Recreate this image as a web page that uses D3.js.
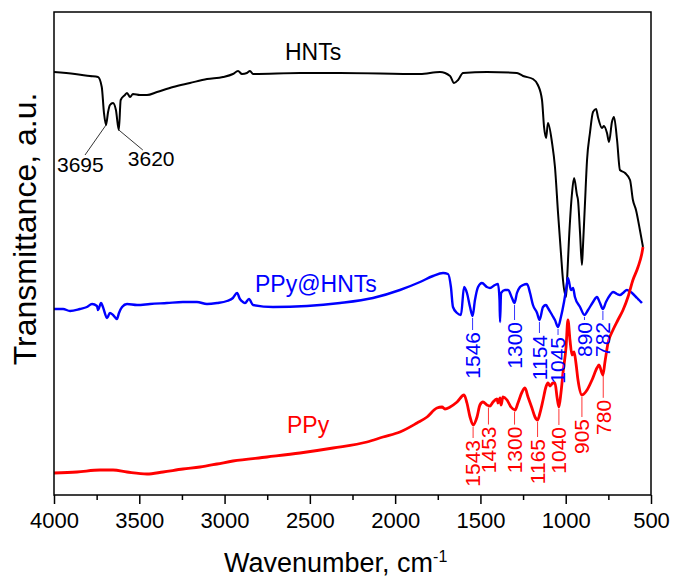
<!DOCTYPE html>
<head>
<title>FTIR spectra</title>
<style>
  body { margin: 0; background: #fff; }
  svg { font-family: "Liberation Sans", Arial, sans-serif; }
</style>
</head>
<body>
<svg width="673" height="579" id="chart"></svg>
<script src="https://cdn.jsdelivr.net/npm/d3@7"></script>
<script>

// wavenumber (cm-1) and transmittance (a.u., offset per curve)
var hntsWave = [4000,3877,3789,3742,3720,3707,3695,3683,3672,3654,3637,3620,3609,3584,3572,3554,3537,3496,3455,3396,3302,3203,3103,3009,2951,2921,2898,2869,2851,2833,2558,2323,1854,1737,1678,1655,1631,1602,1462,1286,1250,1192,1163,1139,1127,1115,1104,1080,1063,1045,1028,1016,998,992,981,963,951,934,928,916,905,899,887,875,858,840,822,811,787,776,758,746,729,717,699,682,652,623,606,588,565,547];
var hntsT    = [423,421,419,418,408,382,370,383,390,392,385,365,395,400,402,398,401,400,400,403,408,412,416,418,421,424,421,422,424,421,422,422,421,423,419,412,415,422,423,422,419,416,410,395,368,357,372,352,328,282,242,215,198,215,255,302,317,300,295,262,230,248,292,335,362,383,386,378,367,369,362,353,373,378,355,325,322,315,295,285,265,248];

var ppyHntsWave = [4000,3947,3906,3848,3807,3777,3748,3742,3724,3713,3689,3672,3654,3631,3619,3601,3572,3513,3437,3338,3244,3162,3103,3044,2986,2951,2927,2910,2892,2880,2857,2833,2716,2517,2323,2130,1972,1854,1778,1719,1690,1673,1661,1637,1614,1596,1579,1561,1546,1532,1514,1491,1462,1444,1415,1397,1388,1385,1379,1356,1338,1315,1300,1286,1268,1250,1227,1209,1192,1168,1154,1133,1116,1104,1080,1063,1045,1028,1010,992,987,969,957,946,916,890,869,840,817,799,782,764,740,723,699,682,664,641,611,582,570,553];
var ppyHntsT    = [186,186,184,186,188,191,189,185,192,188,177,182,180,176,182,188,191,190,191,192,193,193,191,192,194,197,202,196,193,192,196,190,188,189,192,197,205,213,219,222,221,208,188,182,180,208,202,188,179,195,208,212,208,207,210,211,195,173,202,205,205,197,192,202,208,210,211,202,190,182,175,188,190,187,180,175,168,178,193,212,217,205,207,198,188,180,185,193,198,192,186,193,200,203,201,200,202,205,202,197,195,192];

var ppyWave = [4000,3865,3730,3654,3572,3455,3361,3244,3144,3044,2951,2751,2558,2364,2165,2071,1972,1872,1813,1755,1725,1708,1678,1637,1596,1579,1561,1543,1520,1503,1485,1462,1444,1426,1403,1397,1385,1379,1368,1344,1321,1297,1280,1256,1239,1221,1198,1180,1165,1151,1133,1116,1104,1092,1075,1063,1051,1040,1028,1016,998,987,975,963,951,940,928,905,875,846,817,805,782,770,752,723,694,664,635,606,576,553,547];
var ppyT    = [22,23,25,25,23,21,23,26,28,31,34,38,42,47,53,58,63,72,78,87,88,86,88,93,100,92,78,70,78,90,93,90,89,93,96,92,97,90,98,95,88,85,92,103,107,98,87,78,75,82,95,108,112,109,112,112,98,88,102,122,148,175,155,140,143,132,115,100,105,115,127,130,120,133,152,165,175,185,198,215,228,242,248];

var hntsPeaks     = [3695, 3620];
var ppyHntsPeaks  = [1546, 1300, 1154, 1045, 890, 782];
var ppyPeaks      = [1543, 1453, 1300, 1165, 1040, 905, 780];

var xTicks = [4000, 3500, 3000, 2500, 2000, 1500, 1000, 500];
var xMinorTicks = [3750, 3250, 2750, 2250, 1750, 1250, 750];


var svg = d3.select("#chart"),
    margin = {top: 12, right: 22, bottom: 84, left: 54},
    width = +svg.attr("width") - margin.left - margin.right,
    height = +svg.attr("height") - margin.top - margin.bottom;

var g = svg.append("g")
    .attr("transform", "translate(" + margin.left + "," + margin.top + ")");

var x = d3.scaleLinear().domain([4000, 500]).range([0, width]);
var y = d3.scaleLinear().domain([0, 483]).range([height, 0]);

var series = [
  {name: "HNTs",     wave: hntsWave,    t: hntsT,    color: "#000000", w: 2,   peaks: hntsPeaks},
  {name: "PPy@HNTs", wave: ppyHntsWave, t: ppyHntsT, color: "#0000ff", w: 2.4, peaks: ppyHntsPeaks},
  {name: "PPy",      wave: ppyWave,     t: ppyT,     color: "#ff0000", w: 2.8, peaks: ppyPeaks}
];

var line = d3.line()
    .x(function(d) { return x(d[0]); })
    .y(function(d) { return y(d[1]); })
    .curve(d3.curveMonotoneX);

// value of a curve at some wavenumber, straight interpolation between read points
function valueAt(s, w) {
  for (var i = 0; i < s.wave.length - 1; i++) {
    var a = s.wave[i], b = s.wave[i + 1];
    if (w <= a && w >= b) {
      return s.t[i] + (s.t[i + 1] - s.t[i]) * (a - w) / (a - b);
    }
  }
  return s.t[s.t.length - 1];
}

series.forEach(function(s) {
  var pts = s.wave.map(function(w, i) { return [w, s.t[i]]; });
  g.append("path")
      .datum(pts)
      .attr("fill", "none")
      .attr("stroke", s.color)
      .attr("stroke-width", s.w)
      .attr("stroke-linejoin", "round")
      .attr("d", line);
});

// curve names
var names = [
  {s: 0, x: 285, y: 60},
  {s: 1, x: 255, y: 292},
  {s: 2, x: 287, y: 433}
];
names.forEach(function(n) {
  svg.append("text")
      .attr("x", n.x)
      .attr("y", n.y)
      .attr("fill", series[n.s].color)
      .style("font-size", "23px")
      .text(series[n.s].name);
});

// HNTs: slanted leaders
var hntsLab = [
  {dx: -21, dy: 30, tx: -49, ty: 47},
  {dx: 24, dy: 20, tx: 9, ty: 36}
];
series[0].peaks.forEach(function(p, i) {
  var px = x(p), py = y(valueAt(series[0], p)), o = hntsLab[i];
  g.append("line")
      .attr("x1", px).attr("y1", py)
      .attr("x2", px + o.dx).attr("y2", py + o.dy)
      .attr("stroke", "#000").attr("stroke-width", 0.8);
  g.append("text")
      .attr("x", px + o.tx)
      .attr("y", py + o.ty)
      .style("font-size", "21px")
      .text(p);
});

// vertical leaders with rotated numbers
function peakLabels(s, gap) {
  s.peaks.forEach(function(p, i) {
    var px = x(p), py = y(valueAt(s, p));
    g.append("line")
        .attr("x1", px).attr("y1", py + 2)
        .attr("x2", px).attr("y2", py + gap[i])
        .attr("stroke", s.color).attr("stroke-width", 0.8);
    g.append("text")
        .attr("transform", "translate(" + px + "," + (py + gap[i] + 2) + ") rotate(-90)")
        .attr("text-anchor", "end")
        .attr("dy", "0.35em")
        .attr("fill", s.color)
        .style("font-size", "21px")
        .text(p);
  });
}
peakLabels(series[1], [14, 17, 13, 8, 5, 11]);
peakLabels(series[2], [13, 19, 15, 17, 18, 22, 25]);

// frame
g.append("rect")
    .attr("width", width)
    .attr("height", height)
    .attr("fill", "none")
    .attr("stroke", "#000")
    .attr("stroke-width", 1.5);

var xAxis = g.append("g")
    .attr("transform", "translate(0," + height + ")")
    .call(d3.axisBottom(x).tickValues(xTicks).tickSize(9).tickPadding(8).tickFormat(d3.format("d")));
xAxis.select(".domain").remove();
xAxis.selectAll("line").attr("stroke-width", 1.5);
xAxis.selectAll("text").style("font-size", "22px").attr("fill", "#000");

var xMinor = g.append("g")
    .attr("transform", "translate(0," + height + ")")
    .call(d3.axisBottom(x).tickValues(xMinorTicks).tickSize(5).tickFormat(""));
xMinor.select(".domain").remove();
xMinor.selectAll("line").attr("stroke-width", 1.5);

// axis titles
var xt = svg.append("text")
    .attr("x", 224)
    .attr("y", 572)
    .style("font-size", "27px");
xt.append("tspan").text("Wavenumber, cm");
xt.append("tspan").attr("dy", "-0.6em").style("font-size", "16px").text("-1");

svg.append("text")
    .attr("transform", "translate(36,229) rotate(-90)")
    .attr("text-anchor", "middle")
    .style("font-size", "32px")
    .text("Transmittance, a.u.");

</script>
</body>
